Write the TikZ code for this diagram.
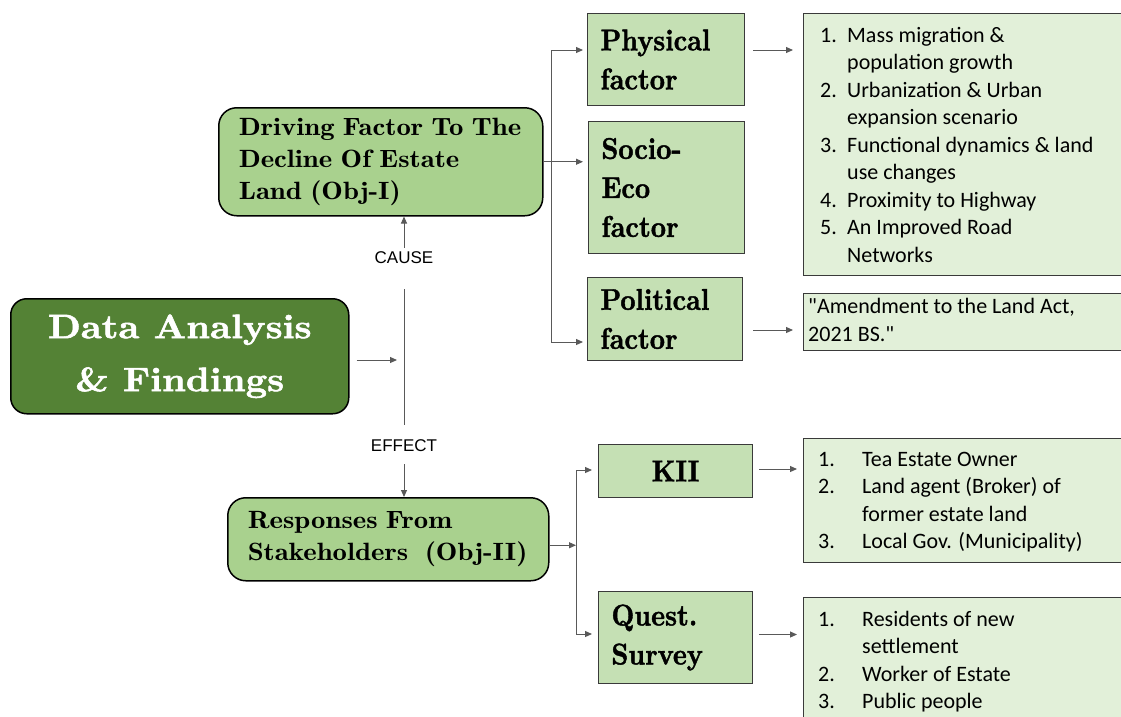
\documentclass[tikz,border=0pt]{standalone}
\usepackage{fontspec}
\newfontfamily\carlito{Carlito}
\newfontfamily\arialf{Liberation Sans}
\newfontfamily\objfont[FakeStretch=1.15]{lmromandemi10-regular.otf}
\newfontfamily\titlefont[FakeStretch=1.1,FakeBold=1.6]{lmroman10-bold.otf}
\newfontfamily\factfont[FakeStretch=0.88,FakeBold=1.4]{lmroman10-bold.otf}
\usetikzlibrary{arrows.meta}
\definecolor{dgreen}{HTML}{548235}
\definecolor{mgreen}{HTML}{A9D18E}
\definecolor{lgreen}{HTML}{C5E0B4}
\definecolor{pgreen}{HTML}{E2F0D9}
\definecolor{conn}{HTML}{595959}
\definecolor{edgec}{HTML}{3A3A3A}
\tikzset{
 mainbox/.style={draw=black, line width=1.5pt, fill=dgreen, rounded corners=16pt, text=white, font=\titlefont\fontsize{34}{53}\selectfont, align=center, inner sep=0pt, anchor=north west},
 objbox/.style={draw=black, line width=1.5pt, fill=mgreen, rounded corners=18pt, font=\objfont\fontsize{25}{32}\selectfont, align=left, inner xsep=20pt, inner ysep=0pt, anchor=north west},
 factbox/.style={draw=edgec, line width=1pt, fill=lgreen, font=\factfont\fontsize{30}{39}\selectfont, align=left, inner xsep=13pt, inner ysep=0pt, anchor=north west},
 listbox/.style={draw=edgec, line width=1pt, fill=pgreen, inner sep=0pt, anchor=north west},
 listtext/.style={font=\carlito\fontsize{22}{27.5}\selectfont, inner sep=0pt, anchor=base west},
 lab/.style={font=\arialf\fontsize{17}{20}\selectfont, inner sep=0pt},
 arr/.style={draw=conn, line width=1pt, -{Triangle[length=7pt,width=6pt]}},
 trunk/.style={draw=conn, line width=1pt},
}
\begin{document}
\begin{tikzpicture}[x=1pt,y=-1pt]
\useasboundingbox (0,0) rectangle (1121,716);
% boxes
\node[mainbox, minimum width=338pt, minimum height=115pt] (main) at (10,298) {Data Analysis\\\& Findings};
\node[objbox, text width=284pt, minimum height=108pt] (driving) at (218,107) {Driving Factor To The\\Decline Of Estate\\Land (Obj-I)};
\node[objbox, text width=281pt, minimum height=83pt] (responses) at (227,497) {Responses From\\Stakeholders \ (Obj-II)};
\node[factbox, text width=131pt, minimum height=92pt] (physical) at (587,13) {Physical\\factor};
\node[factbox, text width=130pt, minimum height=132pt] (socio) at (588,121) {Socio-\\Eco\\factor};
\node[factbox, text width=129pt, minimum height=83pt] (political) at (587,277) {Political\\factor};
\node[factbox, text width=128pt, minimum height=53pt, align=center] (kii) at (598,444) {KII};
\node[factbox, text width=128pt, minimum height=92pt] (quest) at (598,591) {Quest.\\Survey};
% list boxes
\node[listbox, minimum width=330pt, minimum height=262pt] (list1) at (803,13) {};
\node[listbox, minimum width=330pt, minimum height=57pt] (list2) at (803,293) {};
\node[listbox, minimum width=330pt, minimum height=124pt] (list3) at (803,438) {};
\node[listbox, minimum width=330pt, minimum height=130pt] (list4) at (803,597) {};
% list texts
\node[listtext] (list1t) at (820,42) {\begin{tabular}[t]{@{}p{27pt}@{}l@{}}1.&Mass migration \&\\ &population growth\\ 2.&Urbanization \& Urban\\ &expansion scenario\\ 3.&Functional dynamics \& land\\ &use changes\\ 4.&Proximity to Highway\\ 5.&An Improved Road\\ &Networks\end{tabular}};
\node[listtext] (list2t) at (808,313.5) {\begin{tabular}[t]{@{}l@{}}"Amendment to the Land Act,\\2021 BS."\end{tabular}};
\node[listtext] (list3t) at (818,466) {\begin{tabular}[t]{@{}p{44pt}@{}l@{}}1.&Tea Estate Owner\\ 2.&Land agent (Broker) of\\ &former estate land\\ 3.&Local Gov. (Municipality)\end{tabular}};
\node[listtext] (list4t) at (818,626) {\begin{tabular}[t]{@{}p{44pt}@{}l@{}}1.&Residents of new\\ &settlement\\ 2.&Worker of Estate\\ 3.&Public people\end{tabular}};
% labels
\node[lab] (cause) at (404,258) {CAUSE};
\node[lab] (effect) at (404,446) {EFFECT};
% connectors
\coordinate (vtop) at (404,289);
\coordinate (vbot) at (404,425);
\coordinate (hubin) at (397,360);
\draw[trunk] (vtop) -- (vbot);
\draw[arr] ([xshift=7pt]main.east |- hubin) -- (hubin);
\draw[arr] ([yshift=4pt]cause.north) -- (cause.north |- driving.south);
\draw[arr] ([yshift=-12pt]effect.south) -- (effect.south |- responses.north);
\coordinate (ftop) at (551,50);
\coordinate (fbot) at (551,342);
\draw[trunk] (ftop) -- (fbot);
\draw[arr] (ftop) -- ([xshift=-4pt]ftop -| physical.west);
\draw[arr] (driving.east) -- ([xshift=-5pt]driving.east -| socio.west);
\draw[arr] (fbot) -- ([xshift=-4pt]fbot -| political.west);
\draw[arr] ([xshift=8pt]physical.east |- ftop) -- ([xshift=-10pt]ftop -| list1.west);
\draw[arr] ([xshift=10pt,yshift=-11pt]political.east) -- ([xshift=-10pt,yshift=-11pt]political.east -| list2.west);
\coordinate (stop) at (576,470);
\coordinate (sbot) at (576,634);
\draw[trunk] (stop) -- (sbot);
\draw[arr] ([yshift=-6pt]responses.east) -- ([yshift=-6pt]responses.east -| stop);
\draw[arr] (stop) -- ([xshift=-6pt]stop -| kii.west);
\draw[arr] (sbot) -- ([xshift=-6pt]sbot -| quest.west);
\draw[arr] ([xshift=6pt,yshift=2pt]kii.east) -- ([xshift=-6pt,yshift=2pt]kii.east -| list3.west);
\draw[arr] ([xshift=6pt,yshift=3pt]quest.east) -- ([xshift=-6pt,yshift=3pt]quest.east -| list4.west);
\end{tikzpicture}
\end{document}
